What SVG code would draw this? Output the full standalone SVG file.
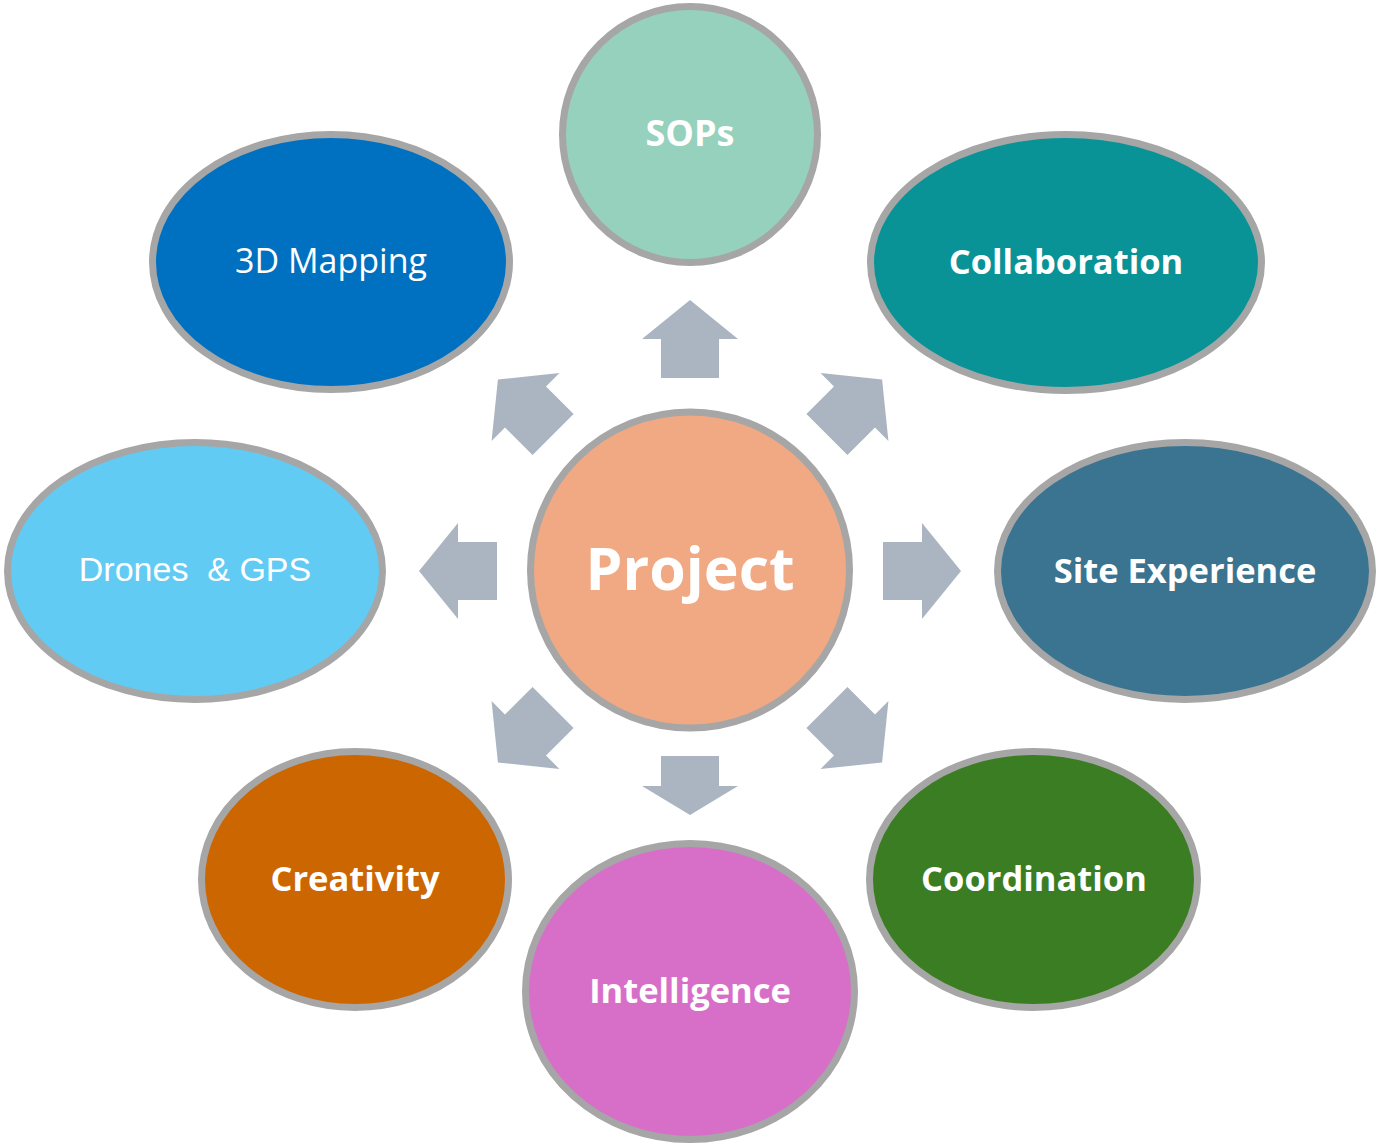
<svg xmlns="http://www.w3.org/2000/svg" width="1376" height="1145" viewBox="0 0 1376 1145">
<style>
.node{stroke:#A6A6A6;stroke-width:7}
.lbl{font-family:"Open Sans","Liberation Sans",sans-serif;fill:#fff;text-anchor:middle;dominant-baseline:central;font-size:34.5px}
.b{font-weight:bold}
.arr{fill:#AAB5C1}
</style>
<defs>
<polygon id="arrowUp" points="0,-39 48,0 29,0 29,39 -29,39 -29,0 -48,0"/>
</defs>
<rect width="1376" height="1145" fill="#fff"/>
<g id="connectors" class="arr">
<use href="#arrowUp" transform="translate(690,339)"/>
<polygon points="690,815 738,786 719,786 719,756 661,756 661,786 642,786"/>
<polygon points="419,571 458,523 458,542 497,542 497,600 458,600 458,619"/>
<polygon points="961,571 922,523 922,542 883,542 883,600 922,600 922,619"/>
<use href="#arrowUp" transform="translate(525.5,407) rotate(-45)"/>
<use href="#arrowUp" transform="translate(854.5,407) rotate(45)"/>
<use href="#arrowUp" transform="translate(525.5,735) rotate(-135)"/>
<use href="#arrowUp" transform="translate(854.5,735) rotate(135)"/>
</g>
<g id="node-project">
<ellipse class="node" cx="690" cy="570" rx="159.5" ry="158" fill="#F1A983"/>
<text class="lbl b" x="690" y="567" style="font-size:59px">Project</text>
</g>
<g id="node-sops">
<ellipse class="node" cx="690" cy="134.5" rx="127.5" ry="128" fill="#95D1BC"/>
<text class="lbl b" x="690" y="132" style="font-size:36px">SOPs</text>
</g>
<g id="node-3dmapping">
<ellipse class="node" cx="331" cy="262" rx="178.5" ry="127.5" fill="#0070C0"/>
<text class="lbl" x="331" y="260" style="font-size:34px">3D Mapping</text>
</g>
<g id="node-collaboration">
<ellipse class="node" cx="1066" cy="262.5" rx="195.5" ry="128" fill="#0A9396"/>
<text class="lbl b" x="1066" y="260">Collaboration</text>
</g>
<g id="node-drones">
<ellipse class="node" cx="195" cy="571" rx="187.5" ry="128.5" fill="#61CBF3"/>
<text class="lbl" x="195" y="569" xml:space="preserve" style="white-space:pre;font-family:'Liberation Sans',Arial,sans-serif;font-size:34px">Drones  &amp; GPS</text>
</g>
<g id="node-site">
<ellipse class="node" cx="1185" cy="571" rx="187.5" ry="128.5" fill="#3A7491"/>
<text class="lbl b" x="1185" y="569">Site Experience</text>
</g>
<g id="node-creativity">
<ellipse class="node" cx="355" cy="879.5" rx="153.5" ry="128" fill="#CC6600"/>
<text class="lbl b" x="355" y="877">Creativity</text>
</g>
<g id="node-intelligence">
<ellipse class="node" cx="690" cy="991.5" rx="164.5" ry="148" fill="#D76FC9"/>
<text class="lbl b" x="690" y="989">Intelligence</text>
</g>
<g id="node-coordination">
<ellipse class="node" cx="1033.5" cy="879.5" rx="164" ry="128" fill="#3B7D23"/>
<text class="lbl b" x="1034" y="877">Coordination</text>
</g>
</svg>
